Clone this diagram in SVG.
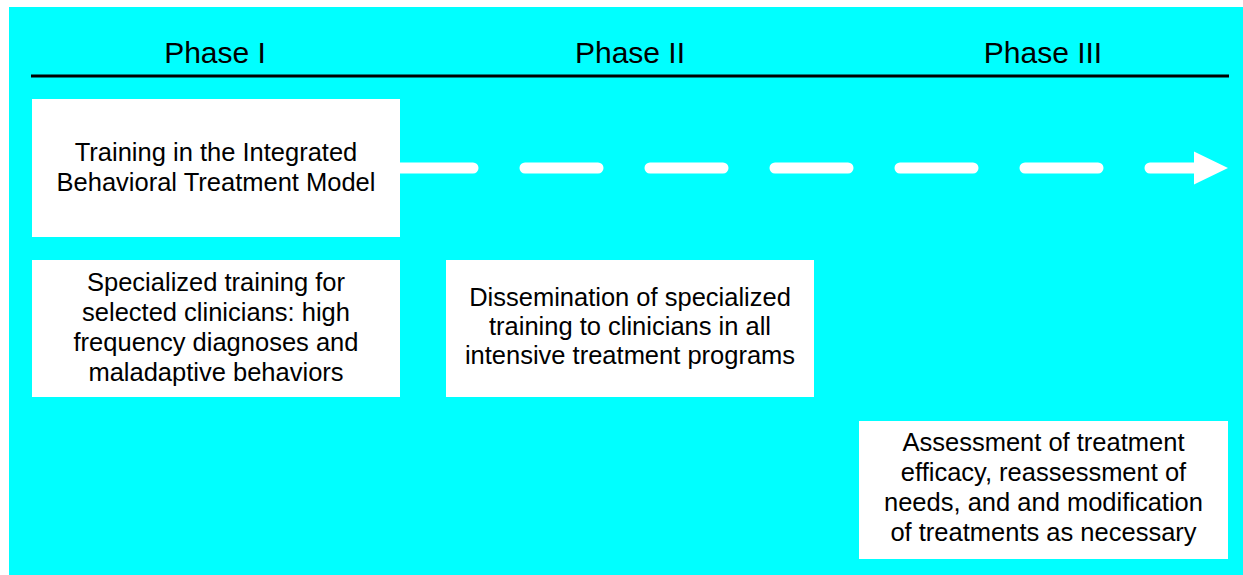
<svg xmlns="http://www.w3.org/2000/svg" width="1243" height="575" viewBox="0 0 1243 575">
<style>
.hdr{font-family:"Liberation Sans",Arial,sans-serif;font-size:30px;fill:#000;text-anchor:middle}
.txt{font-family:"Liberation Sans",Arial,sans-serif;font-size:25.5px;fill:#000;text-anchor:middle}
.box{fill:#fff;stroke:none}
</style>
<rect x="0" y="0" width="1243" height="575" fill="#fff"/>
<rect x="9" y="7" width="1234" height="568" fill="#00ffff"/>
<g id="header">
<text class="hdr" x="215" y="63">Phase I</text>
<text class="hdr" x="630" y="63">Phase II</text>
<text class="hdr" x="1043" y="63">Phase III</text>
<line x1="31" y1="76" x2="1229" y2="76" stroke="#000" stroke-width="3"/>
</g>
<g id="connectors">
<line x1="400" y1="168" x2="1196" y2="168" stroke="#fff" stroke-width="11" stroke-linecap="round" stroke-dasharray="73 52"/>
<polygon points="1194,151.5 1228,168 1194,184.5" fill="#fff"/>
</g>
<g id="node1">
<rect class="box" x="32" y="99" width="368" height="138"/>
<text class="txt" x="216" y="161">Training in the Integrated</text>
<text class="txt" x="216" y="191">Behavioral Treatment Model</text>
</g>
<g id="node2">
<rect class="box" x="32" y="260" width="368" height="137"/>
<text class="txt" x="216" y="291">Specialized training for</text>
<text class="txt" x="216" y="321">selected clinicians: high</text>
<text class="txt" x="216" y="351">frequency diagnoses and</text>
<text class="txt" x="216" y="381">maladaptive behaviors</text>
</g>
<g id="node3">
<rect class="box" x="446" y="260" width="368" height="137"/>
<text class="txt" x="630" y="306">Dissemination of specialized</text>
<text class="txt" x="630" y="335">training to clinicians in all</text>
<text class="txt" x="630" y="364">intensive treatment programs</text>
</g>
<g id="node4">
<rect class="box" x="859" y="421" width="369" height="138"/>
<text class="txt" x="1043.5" y="451">Assessment of treatment</text>
<text class="txt" x="1043.5" y="481">efficacy, reassessment of</text>
<text class="txt" x="1043.5" y="511">needs, and and modification</text>
<text class="txt" x="1043.5" y="541">of treatments as necessary</text>
</g>
</svg>
